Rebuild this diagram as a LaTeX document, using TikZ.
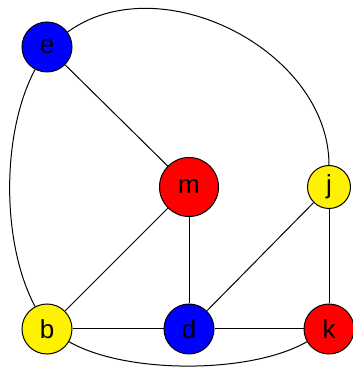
\documentclass[tikz,border=0pt]{standalone}
\usepackage{fontspec}
\setmainfont{Liberation Sans}
\usepackage{tikz}

\begin{document}
\begin{tikzpicture}[x=1pt, y=1pt, line width=1pt,
  every node/.style={font=\fontsize{26}{30}\selectfont},
  vtx/.style={circle, draw=black, inner sep=0pt, minimum size=50pt}]
  \useasboundingbox (0,0) rectangle (353,367);

  % Vertices
  \node[vtx, fill=blue] (e) at (47,320) {e};
  \node[vtx, fill=red, minimum size=59pt] (m) at (189,180) {m};
  \node[vtx, fill=yellow, minimum size=43pt] (j) at (329,180) {j};
  \node[vtx, fill=yellow] (b) at (47,38) {b};
  \node[vtx, fill=blue] (d) at (189,38) {d};
  \node[vtx, fill=red] (k) at (329,38) {k};

  % Straight edges
  \draw (e) -- (m);
  \draw (m) -- (b);
  \draw (m) -- (d);
  \draw (j) -- (d);
  \draw (j) -- (k);
  \draw (b) -- (d);
  \draw (d) -- (k);

  % Curved edges
  \draw (e) to[out=36, in=90] (j);
  \draw (e) to[out=242, in=118, looseness=0.78] (b);
  \draw (b) to[out=-30, in=210, looseness=0.7] (k);
\end{tikzpicture}
\end{document}
